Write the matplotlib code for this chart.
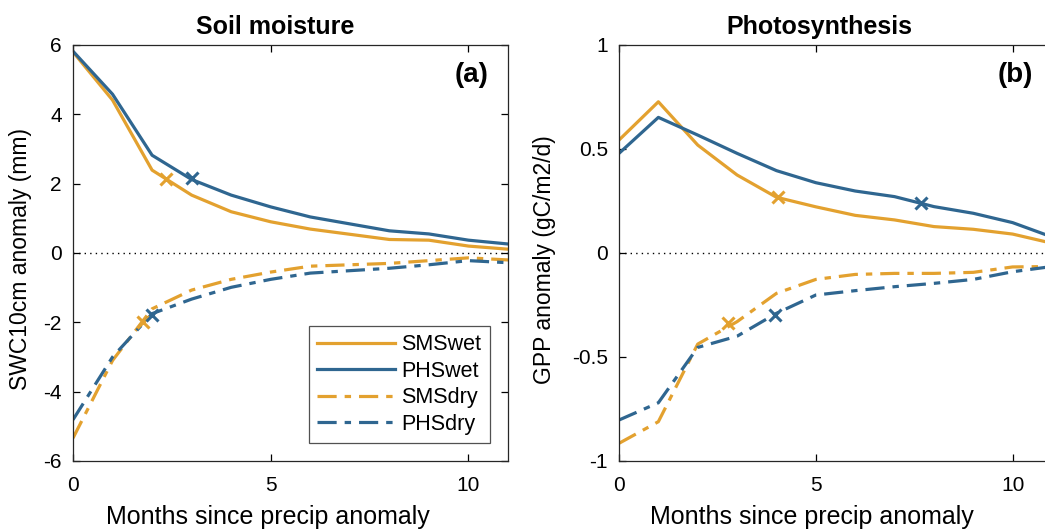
import matplotlib
matplotlib.use("Agg")
import matplotlib.pyplot as plt
import numpy as np

plt.rcParams['font.family'] = ['Liberation Sans', 'DejaVu Sans']

months = list(range(12))

# Panel (a) soil moisture (mm)
sms_wet_a = [5.80, 4.41, 2.39, 1.67, 1.19, 0.90, 0.69, 0.54, 0.39, 0.37, 0.20, 0.11]
phs_wet_a = [5.82, 4.58, 2.82, 2.12, 1.67, 1.33, 1.04, 0.84, 0.64, 0.55, 0.37, 0.26]
sms_dry_a = [-5.34, -3.10, -1.61, -1.07, -0.76, -0.55, -0.38, -0.34, -0.30, -0.22, -0.14, -0.20]
phs_dry_a = [-4.81, -3.00, -1.75, -1.33, -0.99, -0.76, -0.58, -0.51, -0.44, -0.34, -0.22, -0.28]
mark_x_a = [2.35, 3.02, 1.76, 1.99]
mark_y_a = [2.13, 2.15, -1.98, -1.79]

# Panel (b) photosynthesis (gC/m2/d)
sms_wet_b = [0.543, 0.727, 0.519, 0.375, 0.268, 0.222, 0.181, 0.159, 0.127, 0.114, 0.091, 0.047]
phs_wet_b = [0.479, 0.652, 0.567, 0.479, 0.396, 0.338, 0.298, 0.271, 0.223, 0.191, 0.146, 0.077]
sms_dry_b = [-0.915, -0.811, -0.438, -0.330, -0.194, -0.127, -0.103, -0.098, -0.098, -0.093, -0.067, -0.065]
phs_dry_b = [-0.803, -0.720, -0.454, -0.400, -0.290, -0.202, -0.181, -0.162, -0.146, -0.127, -0.090, -0.065]
mark_x_b = [4.03, 7.66, 2.77, 3.96]
mark_y_b = [0.268, 0.239, -0.338, -0.298]

labels = ['SMSwet', 'PHSwet', 'SMSdry', 'PHSdry']
orange = '#E3A12F'
blue = '#2F6690'
colors = [orange, blue, orange, blue]
styles = ['-', '-', '-.', '-.']

fig = plt.figure(figsize=(10.45, 5.29), dpi=100)
W, H = 1045, 529
ax1 = fig.add_axes([73 / W, 1 - 461 / H, (508 - 73) / W, (461 - 45) / H])
ax2 = fig.add_axes([619 / W, 1 - 461 / H, (1052 - 619) / W, (461 - 45) / H])


def draw(ax, series, mx, my, ylim, yticks, yticklabels, title, tag, ylabel,
         title_x, xlab_x, ylab_x):
    ax.axhline(0, color='black', linestyle=(0, (1, 3)), linewidth=1.0, zorder=1)
    for s, c, ls, lab in zip(series, colors, styles, labels):
        kw = dict(dashes=(6, 2.5, 2, 2.5)) if ls == '-.' else {}
        ax.plot(months, s, color=c, linestyle=ls, linewidth=2.3, label=lab, zorder=2, **kw)
    for x, y, c in zip(mx, my, colors):
        ax.plot(x, y, marker='x', color=c, markersize=9, markeredgewidth=2.2, zorder=3)
    ax.set_xlim(0, 11)
    ax.set_ylim(*ylim)
    ax.set_xticks([0, 5, 10])
    ax.set_yticks(yticks)
    ax.set_yticklabels(yticklabels)
    ax.tick_params(direction='in', length=5, width=0.9, labelsize=15, top=True, right=True)
    ax.tick_params(axis='x', pad=11)
    ax.tick_params(axis='y', pad=8)
    for sp in ax.spines.values():
        sp.set_linewidth(0.9)
        sp.set_color('#262626')
    ax.set_title(title, fontsize=18, fontweight='bold', pad=8, x=title_x)
    ax.set_xlabel('Months since precip anomaly', fontsize=18, labelpad=0)
    ax.xaxis.set_label_coords(xlab_x, -0.105)
    ax.xaxis.label.set_va('top')
    ax.set_ylabel(ylabel, fontsize=16.5, labelpad=4)
    ax.yaxis.set_label_coords(ylab_x, 0.485)
    ax.text(0.956, 0.928, tag, transform=ax.transAxes, ha='right', va='center',
            fontsize=20, fontweight='bold')


draw(ax1, [sms_wet_a, phs_wet_a, sms_dry_a, phs_dry_a], mark_x_a, mark_y_a,
     (-6, 6), [-6, -4, -2, 0, 2, 4, 6], ['-6', '-4', '-2', '0', '2', '4', '6'],
     'Soil moisture', '(a)', 'SWC10cm anomaly (mm)', 0.465, 0.448, -0.094)
draw(ax2, [sms_wet_b, phs_wet_b, sms_dry_b, phs_dry_b], mark_x_b, mark_y_b,
     (-1, 1), [-1, -0.5, 0, 0.5, 1], ['-1', '-0.5', '0', '0.5', '1'],
     'Photosynthesis', '(b)', 'GPP anomaly (gC/m2/d)', 0.463, 0.445, -0.145)

leg = ax1.legend(loc='lower right', bbox_to_anchor=(0.9586, 0.043), borderaxespad=0,
                 fontsize=15.5, frameon=True, fancybox=False, edgecolor='#262626',
                 handlelength=3.6, borderpad=0.4, labelspacing=0.25, handletextpad=0.3)
leg.get_frame().set_linewidth(0.9)

fig.savefig('out.png', dpi=100)
